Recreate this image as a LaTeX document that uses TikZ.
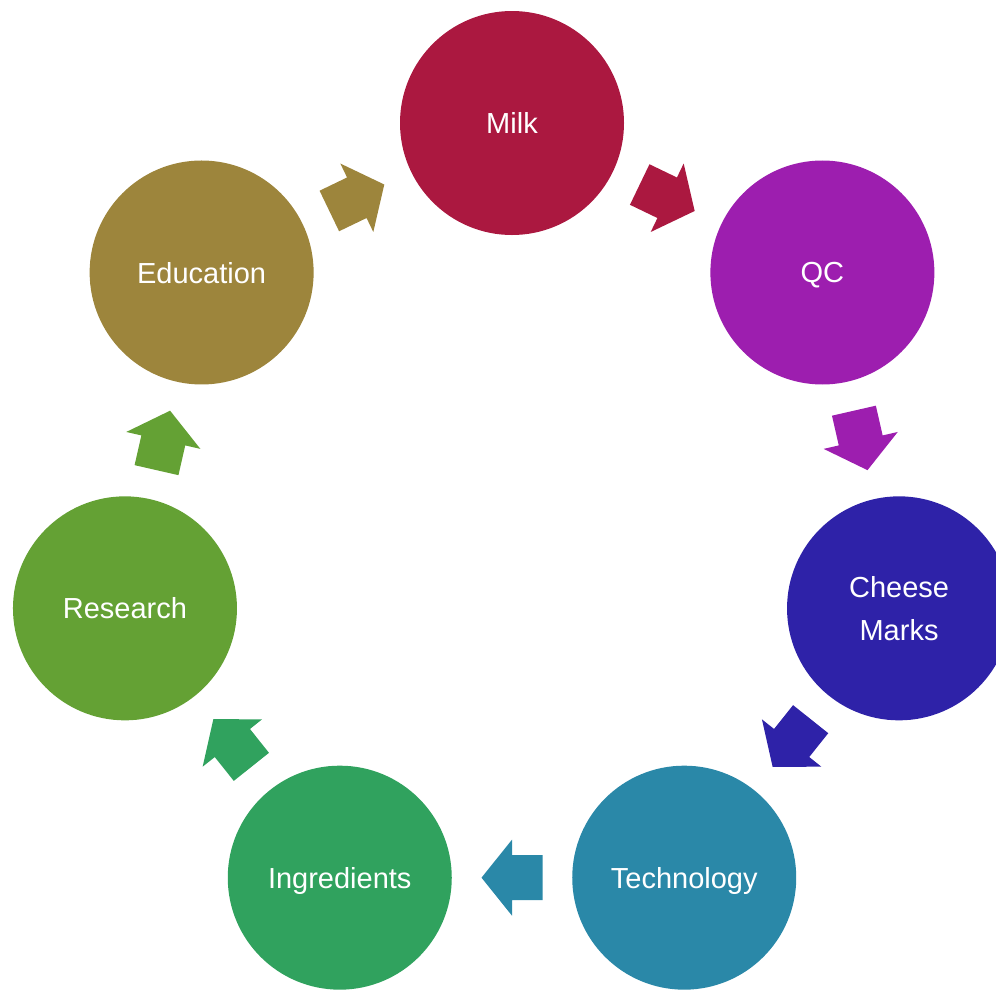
\documentclass[tikz,border=0pt]{standalone}
\usepackage{fontspec}
\setmainfont{Liberation Sans}
\usetikzlibrary{calc}
\definecolor{cMilk}{HTML}{AB1840}
\definecolor{cQC}{HTML}{9D1EAF}
\definecolor{cCheese}{HTML}{2E22A8}
\definecolor{cTech}{HTML}{2A88A8}
\definecolor{cIngr}{HTML}{30A25E}
\definecolor{cRes}{HTML}{64A134}
\definecolor{cEdu}{HTML}{9D853C}
\begin{document}
\begin{tikzpicture}[x=1pt,y=1pt,
  stage/.style={circle, minimum size=224pt, inner sep=0pt, text=white,
    font=\fontsize{29}{43}\selectfont},
  oneline/.style={text depth=0pt},
  twoline/.style={align=center}]
\clip (0,0) rectangle (996,-989);
\coordinate (o) at (512,-520);
\node[stage, oneline, fill=cMilk]   (milk)   at ($(o)+(90:397)$) {Milk};
\node[stage, oneline, fill=cQC]     (qc)     at ($(o)+({90-360/7}:397)$) {QC};
\node[stage, twoline, fill=cCheese] (cheese) at ($(o)+({90-2*360/7}:397)$) {Cheese\\Marks};
\node[stage, oneline, fill=cTech]   (tech)   at ($(o)+({90-3*360/7}:397)$) {Technology};
\node[stage, oneline, fill=cIngr]   (ingr)   at ($(o)+({90-4*360/7}:397)$) {Ingredients};
\node[stage, oneline, fill=cRes]    (res)    at ($(o)+({90-5*360/7}:397)$) {Research};
\node[stage, oneline, fill=cEdu]    (edu)    at ($(o)+({90-6*360/7}:397)$) {Education};
\foreach \a/\b/\c [count=\i from 0] in {milk/qc/cMilk, qc/cheese/cQC, cheese/tech/cCheese, tech/ingr/cTech, ingr/res/cIngr, res/edu/cRes, edu/milk/cEdu} {
  \begin{scope}[shift={($(\a)!0.5!(\b)$)}, rotate={-360/7*(\i+0.5)}]
    \fill[\c] (-30.5,-22.5) -- (0,-22.5) -- (0,-38) -- (30.5,0) -- (0,38) -- (0,22.5) -- (-30.5,22.5) -- cycle;
  \end{scope}
}
\end{tikzpicture}
\end{document}
